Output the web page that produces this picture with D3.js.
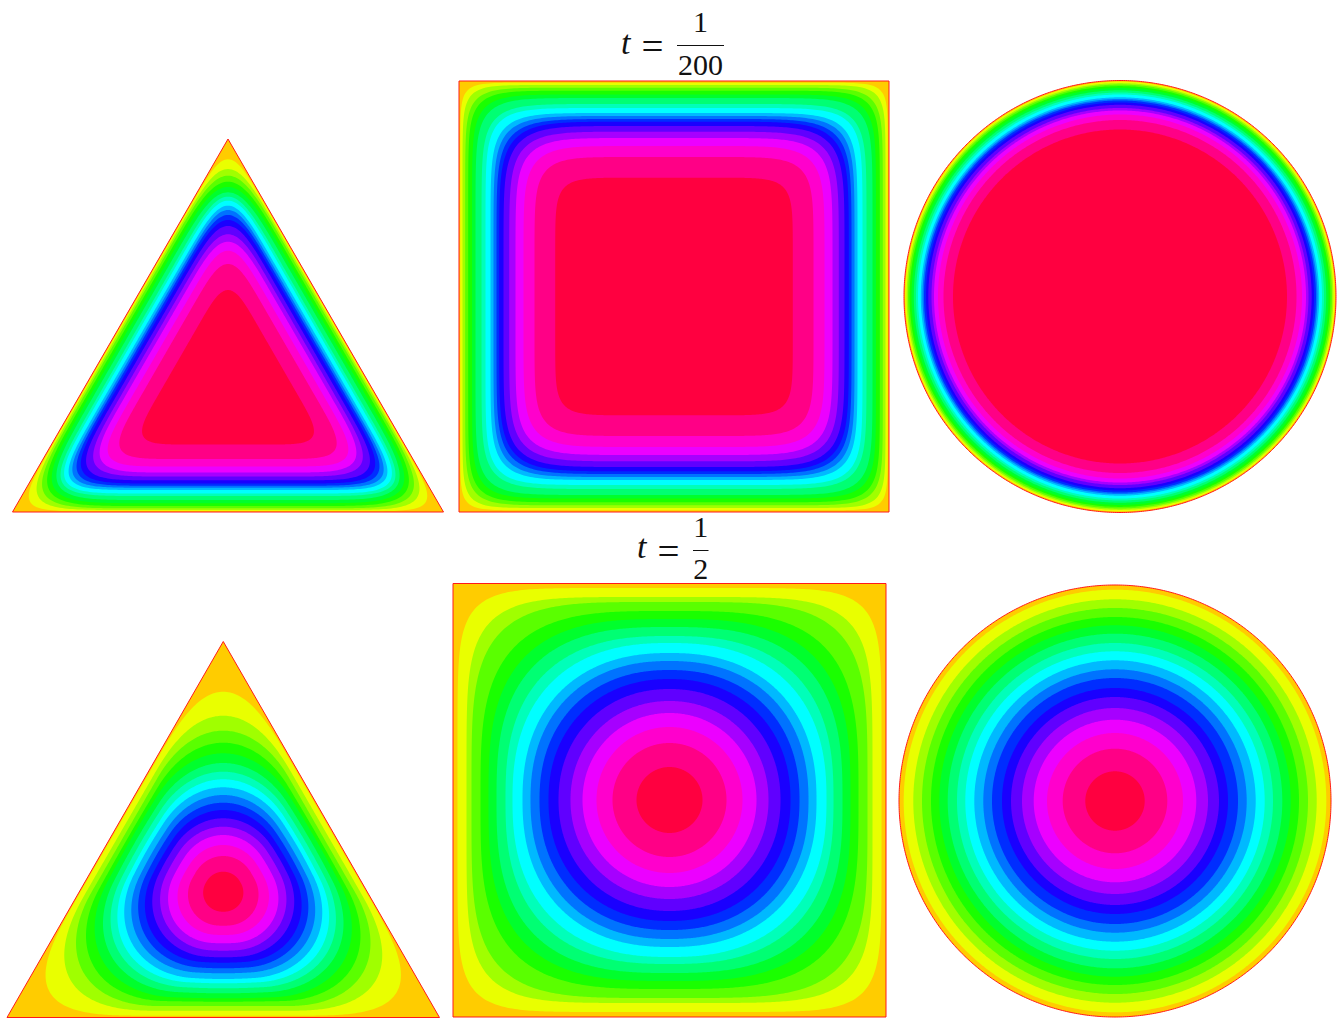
<!DOCTYPE html>
<html>
<head>
<meta charset="utf-8">
<style>
	body { margin: 0; background: #fff; }
	svg { display: block; }
	text { font-family: 'Liberation Serif', serif; fill: #111; }
</style>
<script src="https://cdn.jsdelivr.net/npm/d3@7"></script>
</head>
<body>
<script>
// colour of each band, outside to inside
const bandColors = ['#ffcc00', '#e9ff00', '#a0ff00', '#5aff00', '#1aff00', '#00ff2d', '#00ff73', '#00ffb9', '#00ffff',
	'#00b9ff', '#0073ff', '#002dff', '#1a00ff', '#6000ff', '#a600ff', '#ec00ff', '#ff00cc', '#ff0086', '#ff0040']

// contour sizes, one value per band edge, outside to inside

// t = 1/200
const tri1Edge = [123.6, 122.3, 120.6, 118.3, 115.5, 112.3, 108.3, 105.8, 102.3, 100, 98, 95.8, 92.6, 88.8, 84.8, 78.8, 71.3, 56.8]
const tri1Vertex = [228.4, 218.7, 212, 206, 200.7, 195.4, 191, 187, 182, 177.7, 172.7, 167.7, 161.7, 153.4, 146, 137, 123.7, 97.7]
const square1Edge = [213.8, 211.5, 208.8, 205.8, 202, 198.5, 192.5, 188.5, 183.5, 180.5, 177.5, 174.8, 170.5, 164.8, 158.5, 150.5, 139.5, 118.8]
const square1Corner = [206.3, 202, 197.3, 193.5, 188.9, 184.6, 178.1, 174.4, 168.8, 165.2, 161.5, 158.2, 154.3, 149.1, 143.4, 136.2, 126.9, 109.3]
const circle1Radius = [214.8, 213.4, 212, 210.4, 208.5, 206.2, 204, 202, 199.2, 197.5, 196, 194, 191.7, 188.5, 186, 182, 176.5, 167]

// t = 1/2
const tri2Edge = [123.7, 118.7, 114, 109.7, 106.3, 101.3, 96.3, 91.3, 87, 81.3, 76.3, 70.7, 65.3, 58.7, 51.3, 43, 33.7, 19.7]
const tri2Vertex = [200.3, 176.3, 161.3, 149.3, 138.7, 129, 120.3, 112.7, 104.7, 97, 89.3, 82, 73.7, 65.3, 57, 47, 36, 20.3]
const square2Edge = [212, 203, 198, 189, 181, 173, 164, 157, 147, 139, 130, 121, 111, 99, 87, 73, 57, 33]
const square2Corner = [192.9, 178.6, 168.3, 154, 143.9, 134.9, 125.5, 117.8, 108.8, 102.2, 94.9, 87.7, 79.9, 70.8, 61.8, 51.8, 40.3, 23.3]
const circle2Radius = [211.3, 201.7, 193, 184, 175.7, 167.3, 158, 149.7, 140.7, 131.7, 123, 113, 104, 93, 81.3, 68, 52.3, 29.7]

const titleNumerators = ['1', '1']
const titleDenominators = ['200', '2']

const width = 1337
const height = 1019
const rad = Math.PI / 180
const angles = d3.range(0, 360, 0.5)

const svg = d3.select('body').append('svg').attr('width', width).attr('height', height)

// Radius of a rounded triangle, phi is measured from the normal of the nearest side.
// edge = distance to the side, vertex = distance towards the corner
function triangleRadius(theta, edge, vertex) {
	const m = (((theta - 90) % 120) + 120) % 120
	const phi = m > 60 ? 120 - m : m
	let k = 1
	let p = 2
	if (vertex / edge < Math.SQRT2) {
		k = Math.acos(edge / (Math.SQRT2 * vertex)) / (60 * rad)
	} else {
		p = Math.log(2) / Math.log((2 * edge) / vertex)
	}
	const a = Math.cos(k * phi * rad)
	const b = Math.max(0, Math.cos(k * (120 - phi) * rad))
	return edge / Math.pow(Math.pow(a, p) + Math.pow(b, p), 1 / p)
}

// Radius of a rounded square, corner = x and y offset of the contour on the diagonal
function squareRadius(theta, edge, corner) {
	const p = Math.log(2) / Math.log(edge / corner)
	const a = Math.abs(Math.cos(theta * rad))
	const b = Math.abs(Math.sin(theta * rad))
	return edge / Math.pow(Math.pow(a, p) + Math.pow(b, p), 1 / p)
}

function drawPanel(box, domainY, radiusFn, outline, contours) {
	const x = d3.scaleLinear().domain([-(box.x1 - box.x0) / 2, (box.x1 - box.x0) / 2]).range([box.x0, box.x1])
	const y = d3.scaleLinear().domain(domainY).range([box.y0, box.y1])
	const line = d3
		.line()
		.x(d => x(d[0]))
		.y(d => y(d[1]))
		.curve(d3.curveLinearClosed)

	const g = svg.append('g')

	g.append('path').attr('d', line(outline(x, y))).attr('fill', bandColors[0])

	g.selectAll('path.band')
		.data(contours)
		.join('path')
		.attr('class', 'band')
		.attr('fill', (d, i) => bandColors[i + 1])
		.attr('d', d =>
			line(
				angles.map(t => {
					const r = radiusFn(t, d[0], d[1])
					return [r * Math.cos(t * rad), r * Math.sin(t * rad)]
				})
			)
		)

	g.append('path')
		.attr('d', line(outline(x, y)))
		.attr('fill', 'none')
		.attr('stroke', '#ff1a1a')
		.attr('stroke-width', 1)
}

const triangleOutline = (x, y) => [
	[0, y.domain()[0]],
	[x.domain()[1], y.domain()[1]],
	[x.domain()[0], y.domain()[1]]
]
const squareOutline = (x, y) => [
	[x.domain()[0], y.domain()[0]],
	[x.domain()[1], y.domain()[0]],
	[x.domain()[1], y.domain()[1]],
	[x.domain()[0], y.domain()[1]]
]
const circleOutline = (x, y) => angles.map(t => [x.domain()[1] * Math.cos(t * rad), x.domain()[1] * Math.sin(t * rad)])

const circleRadius = (t, r) => r

// first row
drawPanel({ x0: 12.5, x1: 443.5, y0: 139, y1: 512 }, [-248.7, 124.3], triangleRadius, triangleOutline, d3.zip(tri1Edge, tri1Vertex))
drawPanel({ x0: 459, x1: 889, y0: 81, y1: 512 }, [-215.5, 215.5], squareRadius, squareOutline, d3.zip(square1Edge, square1Corner))
drawPanel({ x0: 904, x1: 1336, y0: 80.5, y1: 512.5 }, [-216, 216], circleRadius, circleOutline, d3.zip(circle1Radius))

// second row
drawPanel({ x0: 7, x1: 439.5, y0: 641.5, y1: 1017.5 }, [-250.5, 125.5], triangleRadius, triangleOutline, d3.zip(tri2Edge, tri2Vertex))
drawPanel({ x0: 453, x1: 886, y0: 583.5, y1: 1017 }, [-216.5, 217], squareRadius, squareOutline, d3.zip(square2Edge, square2Corner))
drawPanel({ x0: 899, x1: 1331, y0: 585, y1: 1017 }, [-216, 216], circleRadius, circleOutline, d3.zip(circle2Radius))

// titles, built by hand because the fraction is not a single text run
function drawTitle(i, tx, eqx, barx0, barx1, tBase, numBase, denBase, barY) {
	const g = svg.append('g').style('font-size', '30px')
	g.append('text').attr('x', tx).attr('y', tBase).style('font-style', 'italic').style('font-size', '34px').text('t')
	g.append('text')
		.attr('x', eqx)
		.attr('y', barY + 13)
		.style('font-size', '38px')
		.attr('textLength', 22)
		.attr('lengthAdjust', 'spacingAndGlyphs')
		.text('=')
	const mid = (barx0 + barx1) / 2
	g.append('text').attr('x', mid).attr('y', numBase).attr('text-anchor', 'middle').text(titleNumerators[i])
	g.append('text').attr('x', mid).attr('y', denBase).attr('text-anchor', 'middle').text(titleDenominators[i])
	g.append('line').attr('x1', barx0).attr('x2', barx1).attr('y1', barY).attr('y2', barY).attr('stroke', '#111').attr('stroke-width', 1)
}

drawTitle(0, 621, 641.5, 677, 724, 53.5, 32, 75, 45.5)
drawTitle(1, 637, 657.5, 693, 708.5, 558, 536.5, 579, 550.5)
</script>
</body>
</html>
